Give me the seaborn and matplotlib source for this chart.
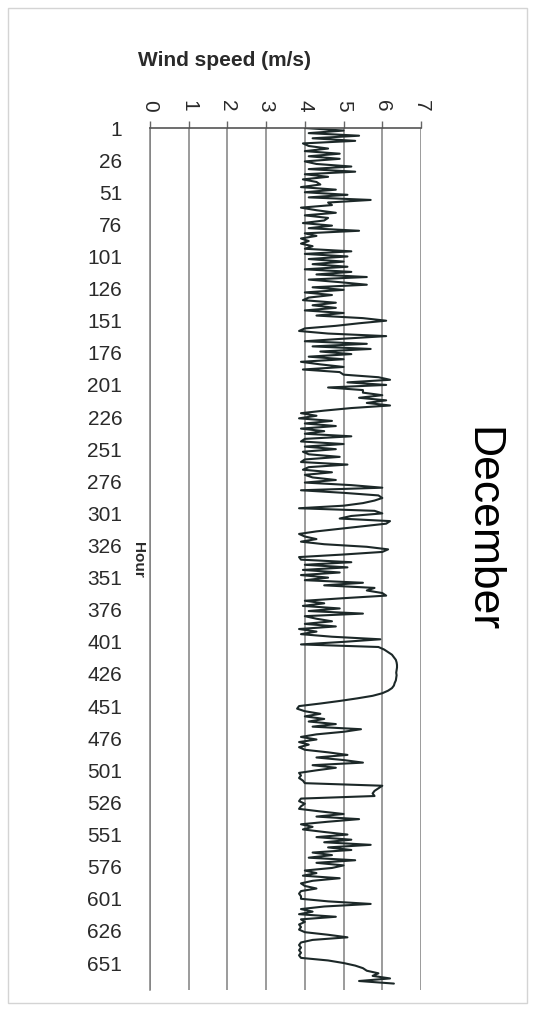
import matplotlib.pyplot as plt
import seaborn as sns
from matplotlib.patches import Rectangle

# hourly wind speed for December, read every 2 hours from the chart (m/s)
hours = list(range(1, 668, 2))
wind_speed = [
    4.0, 5.0, 4.1, 5.4, 4.2, 5.3, 3.95, 4.1, 4.6, 4.0, 4.9, 4.1,
    4.9, 4.0, 4.3, 5.2, 4.1, 5.3, 4.0, 4.6, 3.95, 4.3, 4.4, 3.9,
    4.8, 4.0, 5.1, 4.1, 5.7, 4.6, 4.7, 3.9, 4.3, 4.8, 4.0, 4.6,
    4.5, 3.95, 4.7, 4.1, 5.4, 4.0, 4.3, 3.9, 4.1, 3.9, 4.2, 4.0,
    5.2, 4.0, 5.1, 4.1, 5.0, 4.2, 5.1, 4.0, 5.2, 4.3, 5.6, 4.1,
    4.9, 5.6, 4.2, 5.0, 4.0, 4.7, 4.1, 3.95, 4.8, 4.2, 4.8, 4.0,
    5.0, 4.3, 5.5, 6.1, 5.4, 4.8, 4.0, 3.85, 4.6, 6.1, 5.0, 4.0,
    5.6, 4.2, 5.7, 4.4, 5.2, 4.1, 5.0, 3.9, 4.4, 5.0, 3.95, 4.9,
    5.0, 5.9, 6.2, 5.1, 6.1, 4.6, 5.5, 5.5, 6.0, 5.4, 6.1, 5.6,
    6.2, 5.2, 4.5, 3.9, 4.3, 3.85, 4.7, 4.0, 4.8, 3.9, 4.5, 4.0,
    5.2, 4.0, 3.9, 5.0, 4.0, 4.8, 3.95, 4.1, 4.9, 4.0, 3.9, 5.1,
    4.1, 3.95, 4.7, 4.0, 4.2, 4.8, 4.0, 5.2, 6.0, 3.9, 5.0, 5.9,
    6.0, 5.8, 5.5, 5.0, 3.85, 5.8, 6.0, 5.2, 4.9, 6.2, 6.1, 5.5,
    4.9, 4.3, 3.85, 4.0, 4.3, 3.9, 4.5, 5.6, 6.15, 6.0, 5.0, 3.85,
    3.9, 5.2, 4.0, 5.1, 3.95, 4.9, 3.9, 4.6, 4.0, 5.5, 4.5, 5.8,
    5.6, 6.0, 6.1, 5.0, 4.0, 4.5, 3.95, 4.9, 4.1, 5.5, 4.0, 4.3,
    4.7, 4.0, 4.8, 3.85, 4.3, 3.9, 4.7, 5.95, 5.0, 3.9, 5.9, 6.05,
    6.15, 6.25, 6.3, 6.35, 6.37, 6.38, 6.38, 6.37, 6.36, 6.37, 6.36, 6.35,
    6.32, 6.3, 6.25, 6.15, 6.0, 5.75, 5.35, 4.9, 4.4, 3.85, 3.8, 4.0,
    4.4, 4.0, 4.5, 4.1, 4.8, 4.2, 5.45, 5.0, 4.3, 3.9, 4.3, 3.85,
    4.1, 3.85, 4.0, 4.6, 5.1, 4.3, 5.0, 5.5, 4.2, 4.8, 4.3, 3.85,
    3.9, 3.85, 3.95, 4.0, 6.0, 5.9, 5.8, 5.75, 5.8, 3.9, 3.85, 4.0,
    3.9, 3.85, 4.4, 5.0, 4.3, 5.4, 4.6, 3.9, 4.2, 3.95, 4.5, 5.1,
    4.3, 5.2, 4.5, 5.7, 4.6, 5.2, 4.2, 4.7, 4.1, 5.3, 4.3, 5.0,
    4.7, 4.0, 4.3, 3.95, 4.9, 4.2, 3.9, 4.0, 4.3, 3.9, 3.85, 3.9,
    3.9, 4.6, 5.7, 4.5, 3.9, 4.2, 3.85, 4.8, 3.9, 4.0, 3.85, 3.9,
    3.85, 4.0, 4.6, 5.1, 4.2, 3.9, 3.85, 3.9, 3.85, 3.9, 3.85, 3.9,
    4.6, 5.0, 5.3, 5.5, 5.6, 5.9, 5.75, 6.2, 5.4, 6.3,
]
hour_ticks = list(range(1, 652, 25))
speed_ticks = [0, 1, 2, 3, 4, 5, 6, 7]

sns.set_theme(style="white")
plt.rcParams['font.family'] = ['Liberation Sans', 'DejaVu Sans']

fig = plt.figure(figsize=(5.33, 10.10), dpi=100)
ax = fig.add_axes([150 / 533, 1 - 990 / 1010, 271 / 533, 862 / 1010])

sns.lineplot(x=wind_speed, y=hours, sort=False, estimator=None, orient='y',
             ax=ax, color='#1c2828', linewidth=1.5)

ax.set_xlim(0, 7)
ax.set_ylim(672, 1)
ax.xaxis.tick_top()
ax.set_xticks(speed_ticks)
ax.set_xticklabels([str(t) for t in speed_ticks], rotation=-90, fontsize=15, color='#2a2a2a')
ax.set_yticks(hour_ticks)
ax.set_yticklabels([str(t) for t in hour_ticks], fontsize=15, color='#2a2a2a')
ax.tick_params(axis='x', length=5, width=1, color='#666666', pad=7)
ax.tick_params(axis='y', length=0, pad=20)
ax.grid(axis='x', color='#808080', linewidth=1.1)
ax.set_xlabel('')
ax.set_ylabel('')
for side in ['right', 'bottom']:
    ax.spines[side].set_visible(False)
ax.spines['top'].set_color('#555555')
ax.spines['left'].set_color('#808080')
ax.spines['top'].set_linewidth(1.2)
ax.spines['left'].set_linewidth(1.1)

fig.text(225 / 533, 1 - 60 / 1010, 'Wind speed (m/s)', ha='center', va='center',
         fontsize=15, fontweight='bold', color='#2a2a2a')
fig.text(138 / 533, 1 - 560 / 1010, 'Hour', ha='center', va='center',
         rotation=-90, fontsize=11, fontweight='bold', color='#2a2a2a')
fig.text(482 / 533, 1 - 530 / 1010, 'December', ha='center', va='center',
         rotation=-90, fontsize=32, color='#000000')

# light frame round the chart area
fig.patches.append(Rectangle((8 / 533, 7 / 1010), 519 / 533, 995 / 1010,
                             transform=fig.transFigure, fill=False,
                             edgecolor='#d4d4d4', linewidth=1))

fig.savefig('out.png', dpi=100)
